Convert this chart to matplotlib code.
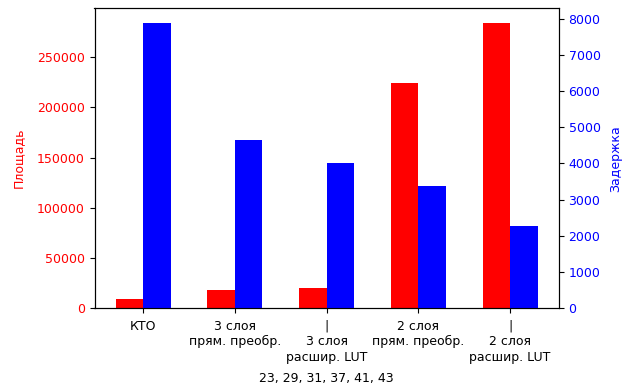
import numpy as np
import matplotlib
matplotlib.use("Agg")
import matplotlib.pyplot as plt

plt.rcParams["font.size"] = 9

labels = ["КТО",
          "3 слоя\nпрям. преобр.",
          "|\n3 слоя\nрасшир. LUT",
          "2 слоя\nпрям. преобр.",
          "|\n2 слоя\nрасшир. LUT"]
ploshad = [8600, 18000, 20000, 224500, 284500]
zaderzhka = [7900, 4650, 4010, 3370, 2260]

x = np.arange(len(labels))
w = 0.3

fig, ax1 = plt.subplots(figsize=(6.3, 3.87), dpi=100)
plt.subplots_adjust(left=0.150, right=0.887, top=0.9786, bottom=0.204)

ax1.bar(x - w / 2, ploshad, w, color="red")
ax1.set_ylabel("Площадь", color="red", labelpad=9)
ax1.tick_params(axis="y", labelcolor="red")
ax1.tick_params(axis="x", pad=5)
ax1.set_xticks(x)
ax1.set_xticklabels(labels, linespacing=1.25)
ax1.set_xlabel("23, 29, 31, 37, 41, 43", labelpad=6)

ax2 = ax1.twinx()
ax2.bar(x + w / 2, zaderzhka, w, color="blue")
ax2.set_ylabel("Задержка", color="blue", labelpad=6)
ax2.tick_params(axis="y", labelcolor="blue")

fig.savefig("out.png", dpi=100)
